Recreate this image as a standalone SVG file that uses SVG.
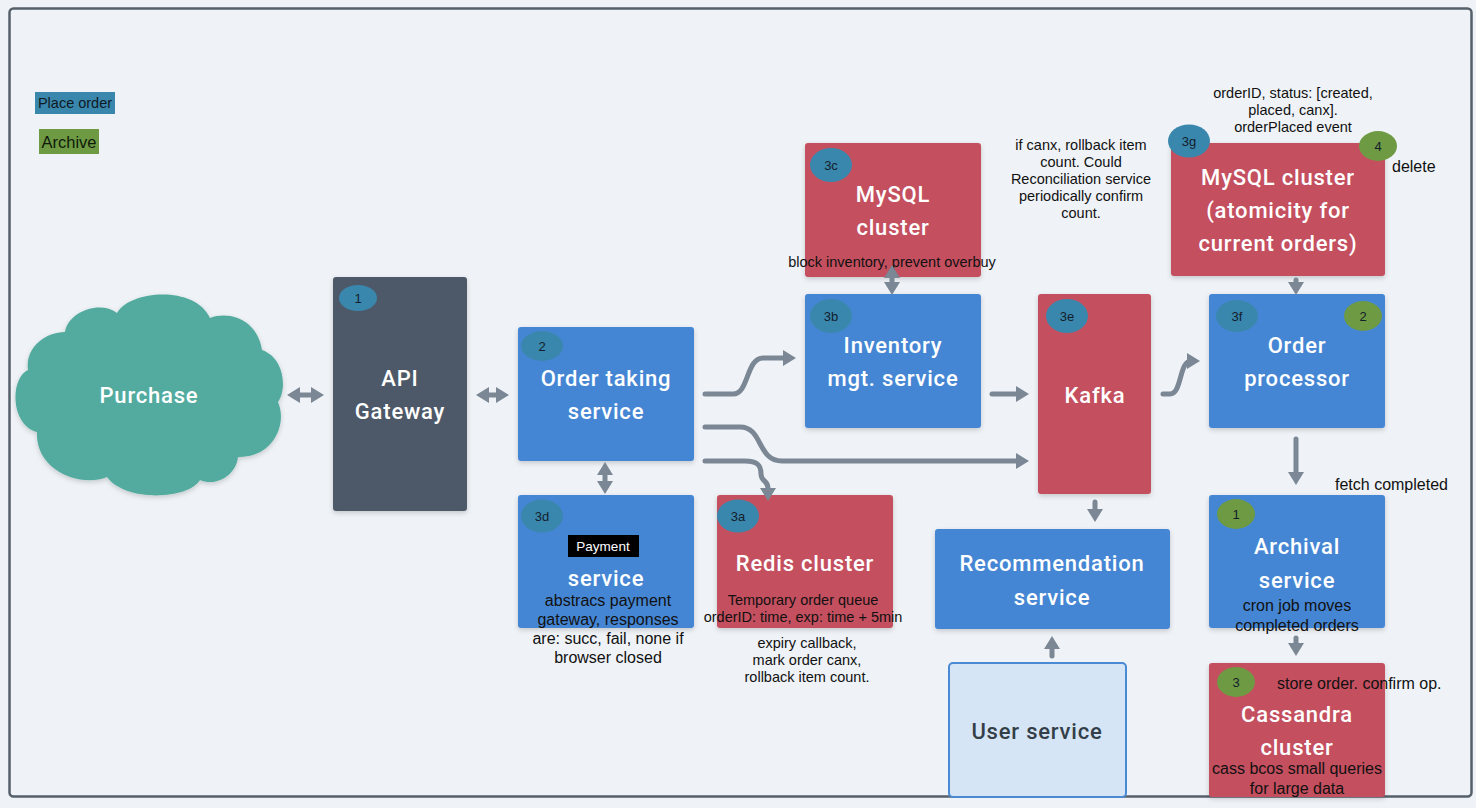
<svg xmlns="http://www.w3.org/2000/svg" width="1476" height="808" viewBox="0 0 1476 808">
<defs>
<style>
.bg{fill:#eff3f7}
.frame{fill:#eff3f7;stroke:#56606b;stroke-width:2.5}
.blue{fill:#4586d4}
.red{fill:#c4505e}
.dark{fill:#4d5967}
.cloud{fill:#52ab9f}
.user{fill:#d6e5f5;stroke:#4a8ad4;stroke-width:2}
.title{font-family:Roboto,"Liberation Sans",sans-serif;font-size:22px;font-weight:500;fill:#ffffff;text-anchor:middle;letter-spacing:0.8px}
.title.darktxt{fill:#333e48}
.note{font-family:"Liberation Sans",Arial,sans-serif;font-size:16px;fill:#111;text-anchor:middle}
.snote{font-family:"Liberation Sans",Arial,sans-serif;font-size:14.5px;fill:#111;text-anchor:middle}
.bdg-b{fill:#3a87ad}
.bdg-g{fill:#6e9a43}
.bt{font-family:"Liberation Sans",Arial,sans-serif;font-size:13px;fill:#13202c;text-anchor:middle}
.conn{fill:none;stroke:#7b8794;stroke-width:5;stroke-linecap:round;stroke-linejoin:round}
</style>
<filter id="sh" x="-10%" y="-10%" width="120%" height="125%">
<feDropShadow dx="0" dy="2" stdDeviation="2.5" flood-color="#000" flood-opacity="0.18"/>
</filter>
<marker id="ah" markerUnits="userSpaceOnUse" markerWidth="14" markerHeight="16" refX="6" refY="8" orient="auto-start-reverse">
<path d="M0,0 L13,8 L0,16 Z" fill="#7b8794"/>
</marker>
</defs>
<rect x="0" y="0" width="1476" height="808" class="bg"/>
<rect x="9.5" y="8.5" width="1462" height="788" rx="4" class="frame"/>

<g id="legend">
<rect x="35" y="92" width="80" height="22" fill="#3a87ad"/>
<text x="75" y="108" font-family="Liberation Sans,Arial,sans-serif" font-size="14.5" fill="#0f1a24" text-anchor="middle">Place order</text>
<rect x="39" y="129" width="60" height="25" fill="#6e9a43"/>
<text x="69" y="148" font-family="Liberation Sans,Arial,sans-serif" font-size="16.5" fill="#0f1a0a" text-anchor="middle">Archive</text>
</g>

<g id="purchase">
<path class="cloud" filter="url(#sh)" d="M 65 332 C 68 312 100 300 117 313 C 130 290 195 285 210 318 C 232 310 258 322 262 350 C 285 358 287 390 278 402 C 288 425 272 458 238 457 C 236 476 215 487 200 480 C 188 500 125 502 107 477 C 80 488 35 470 37 432 C 10 425 10 378 28 370 C 25 348 45 332 65 332 Z"/>
<text class="title" x="149" y="403">Purchase</text>
</g>

<g id="api-gateway">
<rect x="333" y="277" width="134" height="234" rx="3" class="dark" filter="url(#sh)"/>
<ellipse cx="358" cy="298" rx="19" ry="13" class="bdg-b"/>
<text class="bt" x="358" y="303">1</text>
<text class="title" x="400" y="386">API</text>
<text class="title" x="400" y="419">Gateway</text>
</g>

<g id="order-taking">
<rect x="518" y="327" width="176" height="134" rx="3" class="blue" filter="url(#sh)"/>
<ellipse cx="542" cy="346" rx="21" ry="15" class="bdg-b"/>
<text class="bt" x="542" y="351">2</text>
<text class="title" x="606" y="386">Order taking</text>
<text class="title" x="606" y="419">service</text>
</g>

<g id="payment">
<rect x="518" y="495" width="176" height="133" rx="3" class="blue" filter="url(#sh)"/>
<ellipse cx="542" cy="516" rx="21" ry="16.5" class="bdg-b"/>
<text class="bt" x="542" y="521">3d</text>
<rect x="568" y="535" width="71" height="22" fill="#000"/>
<text x="603" y="551" font-family="Liberation Sans,Arial,sans-serif" font-size="13.5" fill="#fff" text-anchor="middle">Payment</text>
<text class="title" x="606" y="586">service</text>
<text class="note" x="608" y="606">abstracs payment</text>
<text class="note" x="608" y="625">gateway, responses</text>
<text class="note" x="608" y="644">are: succ, fail, none if</text>
<text class="note" x="608" y="663">browser closed</text>
</g>

<g id="redis">
<rect x="717" y="495" width="176" height="133" rx="3" class="red" filter="url(#sh)"/>
<ellipse cx="738" cy="516" rx="21" ry="16.5" class="bdg-b"/>
<text class="bt" x="738" y="521">3a</text>
<text class="title" x="805" y="571">Redis cluster</text>
<text class="snote" x="803" y="605">Temporary order queue</text>
<text class="snote" x="803" y="622">orderID: time, exp: time + 5min</text>
<text class="snote" x="807" y="648" font-size="14">expiry callback,</text>
<text class="snote" x="807" y="665" font-size="14">mark order canx,</text>
<text class="snote" x="807" y="682" font-size="14">rollback item count.</text>
</g>

<g id="mysql-inventory">
<rect x="805" y="143" width="176" height="134" rx="3" class="red" filter="url(#sh)"/>
<ellipse cx="831" cy="165" rx="21" ry="17" class="bdg-b"/>
<text class="bt" x="831" y="170">3c</text>
<text class="title" x="893" y="202">MySQL</text>
<text class="title" x="893" y="235">cluster</text>
<text class="snote" x="892" y="267">block inventory, prevent overbuy</text>
</g>

<g id="inventory">
<rect x="805" y="294" width="176" height="134" rx="3" class="blue" filter="url(#sh)"/>
<ellipse cx="831" cy="316" rx="21" ry="17" class="bdg-b"/>
<text class="bt" x="831" y="321">3b</text>
<text class="title" x="893" y="353">Inventory</text>
<text class="title" x="893" y="386">mgt. service</text>
</g>

<g id="kafka">
<rect x="1038" y="294" width="113" height="200" rx="3" class="red" filter="url(#sh)"/>
<ellipse cx="1067" cy="316" rx="21" ry="17" class="bdg-b"/>
<text class="bt" x="1067" y="321">3e</text>
<text class="title" x="1095" y="403">Kafka</text>
</g>

<g id="kafka-note">
<text class="snote" x="1081" y="150">if canx, rollback item</text>
<text class="snote" x="1081" y="167">count. Could</text>
<text class="snote" x="1081" y="184">Reconciliation service</text>
<text class="snote" x="1081" y="201">periodically confirm</text>
<text class="snote" x="1081" y="218">count.</text>
</g>

<g id="mysql-orders">
<text class="snote" x="1293" y="98">orderID, status: [created,</text>
<text class="snote" x="1293" y="115">placed, canx].</text>
<text class="snote" x="1293" y="132">orderPlaced event</text>
<rect x="1171" y="143" width="214" height="133" rx="3" class="red" filter="url(#sh)"/>
<ellipse cx="1189" cy="141" rx="21" ry="16.5" class="bdg-b"/>
<text class="bt" x="1189" y="146">3g</text>
<ellipse cx="1378" cy="146" rx="19" ry="15" class="bdg-g"/>
<text class="bt" x="1378" y="151">4</text>
<text class="note" x="1392" y="172" style="text-anchor:start">delete</text>
<text class="title" x="1278" y="185">MySQL cluster</text>
<text class="title" x="1278" y="218">(atomicity for</text>
<text class="title" x="1278" y="251">current orders)</text>
</g>

<g id="order-processor">
<rect x="1209" y="294" width="176" height="134" rx="3" class="blue" filter="url(#sh)"/>
<ellipse cx="1237" cy="316" rx="21" ry="16" class="bdg-b"/>
<text class="bt" x="1237" y="321">3f</text>
<ellipse cx="1363" cy="316" rx="19" ry="15" class="bdg-g"/>
<text class="bt" x="1363" y="321">2</text>
<text class="title" x="1297" y="353">Order</text>
<text class="title" x="1297" y="386">processor</text>
</g>

<g id="archival">
<text class="note" x="1335" y="490" style="text-anchor:start">fetch completed</text>
<rect x="1209" y="495" width="176" height="133" rx="3" class="blue" filter="url(#sh)"/>
<ellipse cx="1236" cy="514" rx="19" ry="15" class="bdg-g"/>
<text class="bt" x="1236" y="519">1</text>
<text class="title" x="1297" y="554">Archival</text>
<text class="title" x="1297" y="588">service</text>
<text class="note" x="1297" y="611">cron job moves</text>
<text class="note" x="1297" y="631">completed orders</text>
</g>

<g id="cassandra">
<rect x="1209" y="663" width="176" height="134" rx="3" class="red" filter="url(#sh)"/>
<ellipse cx="1236" cy="682" rx="19" ry="15" class="bdg-g"/>
<text class="bt" x="1236" y="687">3</text>
<text class="note" x="1277" y="689" style="text-anchor:start">store order. confirm op.</text>
<text class="title" x="1297" y="722">Cassandra</text>
<text class="title" x="1297" y="755">cluster</text>
<text class="note" x="1297" y="774">cass bcos small queries</text>
<text class="note" x="1297" y="794">for large data</text>
</g>

<g id="recommendation">
<rect x="935" y="529" width="235" height="100" rx="3" class="blue" filter="url(#sh)"/>
<text class="title" x="1052" y="571">Recommendation</text>
<text class="title" x="1052" y="605">service</text>
</g>

<g id="user-service">
<rect x="949" y="663" width="177" height="134" rx="4" class="user"/>
<text class="title darktxt" x="1037" y="739">User service</text>
</g>

<g id="connectors">
<path class="conn" d="M294,395 L317,395" marker-start="url(#ah)" marker-end="url(#ah)"/>
<path class="conn" d="M483,395 L502,395" marker-start="url(#ah)" marker-end="url(#ah)"/>
<path class="conn" d="M605,469 L605,487" marker-start="url(#ah)" marker-end="url(#ah)"/>
<path class="conn" d="M892,272 L892,288" marker-start="url(#ah)" marker-end="url(#ah)"/>
<path class="conn" d="M705,394 L733,394 C749,394 746,358 763,358 L789,358" marker-end="url(#ah)"/>
<path class="conn" d="M705,427 L740,427 C763,427 757,461 782,461 L1022,461" marker-end="url(#ah)"/>
<path class="conn" d="M705,461 L745,461 C758,461 761,466 761,474 C761,482 768,480 768,488 L768,494" marker-end="url(#ah)"/>
<path class="conn" d="M992,394 L1022,394" marker-end="url(#ah)"/>
<path class="conn" d="M1163,394 L1170,394 C1182,394 1179,361 1191,361 L1193,361" marker-end="url(#ah)"/>
<path class="conn" d="M1296,280 L1296,288" marker-end="url(#ah)"/>
<path class="conn" d="M1296,439 L1296,478" marker-end="url(#ah)"/>
<path class="conn" d="M1296,638 L1296,649" marker-end="url(#ah)"/>
<path class="conn" d="M1095,502 L1095,515" marker-end="url(#ah)"/>
<path class="conn" d="M1052,656 L1052,643" marker-end="url(#ah)"/>
</g>
</svg>
